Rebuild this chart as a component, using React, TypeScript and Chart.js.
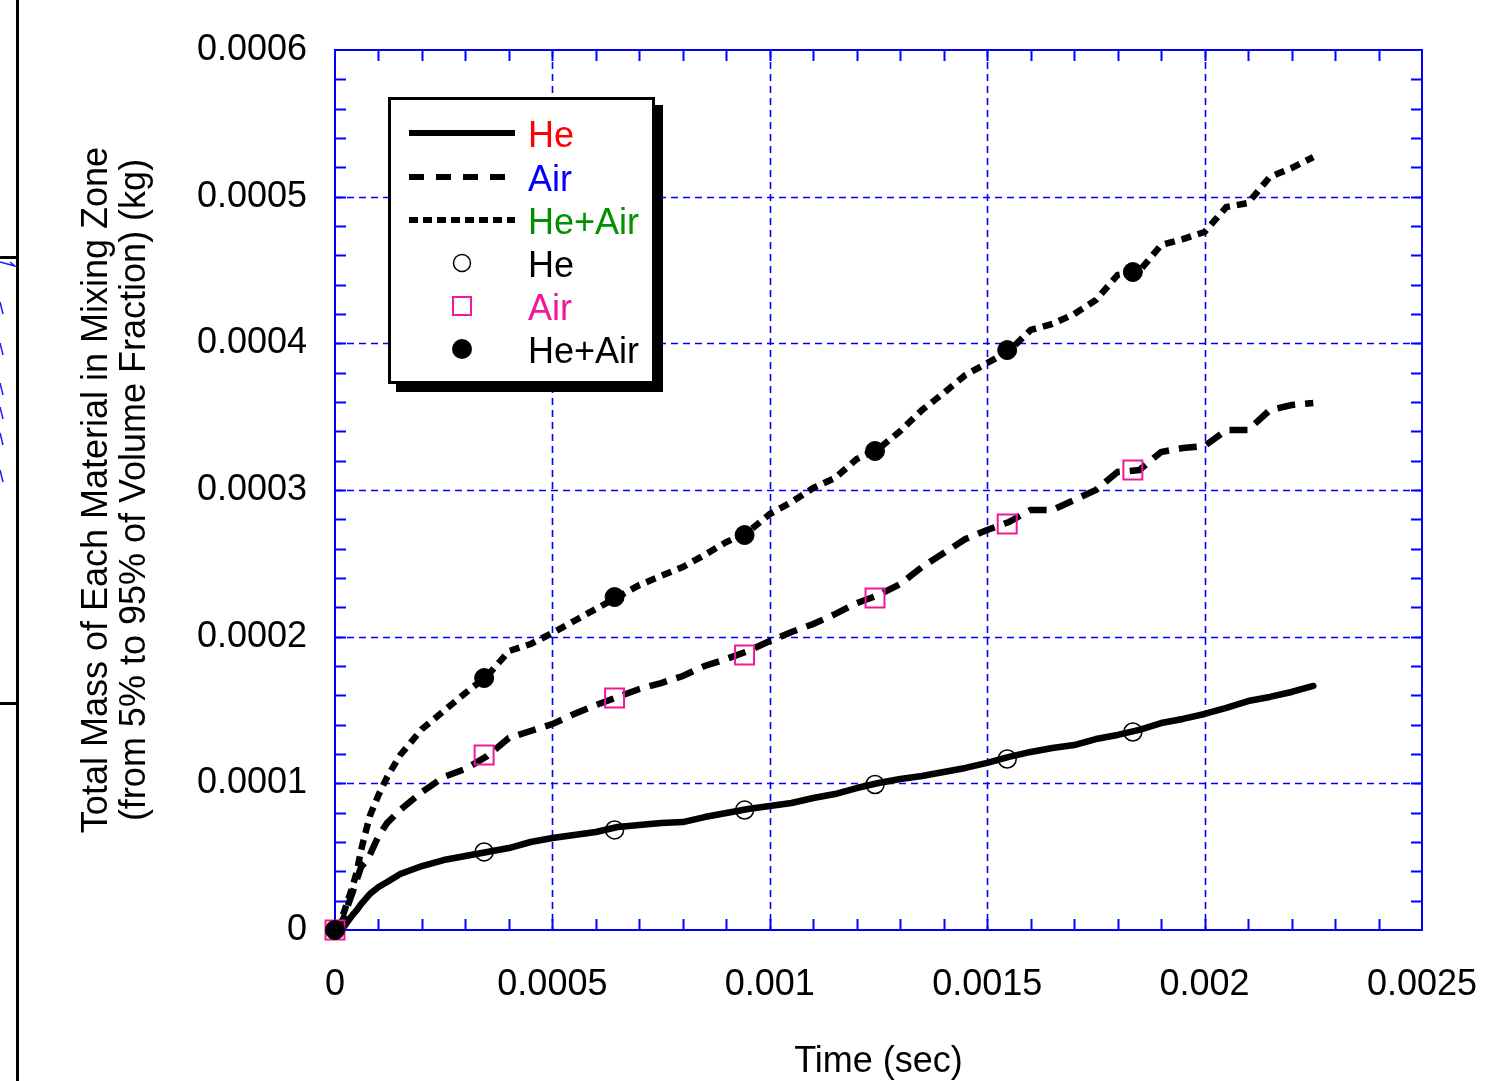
import React, { useEffect, useRef } from 'react';
import { Chart, registerables } from 'chart.js';

Chart.register(...registerables);

// ---------- data ----------
// time (s)
const timeSec = [
  0, 0.00001, 0.00002, 0.00003, 0.00004, 0.00005, 0.00006, 0.00007, 0.00008,
  0.0001, 0.00012, 0.00015,
  0.0002, 0.00025, 0.0003, 0.00035, 0.0004, 0.00045, 0.0005, 0.00055, 0.0006, 0.00065,
  0.0007, 0.00075, 0.0008, 0.00085, 0.0009, 0.00095, 0.001, 0.00105, 0.0011, 0.00115,
  0.0012, 0.00125, 0.0013, 0.00135, 0.0014, 0.00145, 0.0015, 0.00155, 0.0016, 0.00165,
  0.0017, 0.00175, 0.0018, 0.00185, 0.0019, 0.00195, 0.002, 0.00205, 0.0021, 0.00215,
  0.0022, 0.00225,
];
// masses in units of 1e-6 kg
const heMass = [
  0, 0.7, 2.0, 6.1, 10.2, 13.6, 17.7, 21.1, 24.5,
  29.3, 32.7, 38.2,
  43.6, 47.7, 50.5, 53.2, 55.9, 60.0, 62.7, 64.8, 66.8, 70.2,
  71.6, 73.0, 73.6, 77.0, 79.8, 82.5, 84.5, 86.6, 90.0, 92.7,
  96.8, 100.2, 103.0, 105.0, 107.7, 110.5, 113.9, 118.0, 121.4, 124.1,
  126.1, 130.2, 133.0, 136.4, 141.1, 143.9, 147.3, 151.4, 156.1, 158.9,
  162.3, 166.4,
];
const airMass = [
  0, 3.4, 8.2, 17.0, 25.2, 34.1, 43.0, 46.4, 51.1,
  64.1, 73.0, 81.8,
  94.1, 104.3, 109.8, 118.6, 130.9, 135.7, 140.4, 147.3, 153.4, 158.9,
  164.3, 168.4, 173.2, 180.0, 184.8, 190.2, 197.0, 203.2, 208.6, 215.4,
  222.9, 228.4, 235.9, 247.5, 257.0, 266.6, 272.7, 278.2, 286.4, 286.4,
  293.2, 300.0, 312.3, 313.6, 325.9, 328.6, 330.0, 340.9, 340.9, 354.5,
  357.9, 359.3,
];
const heAirMass = [
  0, 5.5, 11.6, 20.5, 29.3, 39.5, 54.5, 66.1, 77.7,
  92.0, 104.3, 119.3,
  137.0, 149.3, 161.6, 173.2, 190.2, 195.0, 202.5, 210.7, 218.9, 227.0,
  235.2, 241.4, 247.5, 255.7, 264.5, 271.4, 283.6, 291.8, 301.4, 308.2,
  321.1, 328.0, 340.2, 354.5, 366.1, 378.4, 386.6, 394.8, 409.1, 413.2,
  420.0, 429.5, 446.6, 449.3, 467.0, 471.1, 475.9, 492.9, 495.7, 513.4,
  519.5, 527.0,
];
const markerTimeSec = [0, 0.000343, 0.000643, 0.000942, 0.001242, 0.001546, 0.001835];
const heMarker = [0, 53.2, 68.2, 81.8, 99.2, 116.6, 135.0];
const airMarker = [0, 119.3, 158.2, 187.5, 226.4, 276.8, 313.6];
const heAirMarker = [0, 171.8, 227.0, 269.3, 326.6, 395.4, 448.6];
const MASS_UNIT = 1e-6;

const xTickValues = [0, 0.0005, 0.001, 0.0015, 0.002, 0.0025];
const xTickLabels = ['0', '0.0005', '0.001', '0.0015', '0.002', '0.0025'];
const yTickValues = [0, 0.0001, 0.0002, 0.0003, 0.0004, 0.0005, 0.0006];
const yTickLabels = ['0', '0.0001', '0.0002', '0.0003', '0.0004', '0.0005', '0.0006'];
const xMinorCount = 25; // 0.0001 steps
const yMinorCount = 30; // 0.00002 steps

const legendLabels = ['He', 'Air', 'He+Air', 'He', 'Air', 'He+Air'];
const legendColors = ['#ff0000', '#0000ff', '#009000', '#000000', '#f0189a', '#000000'];

const FONT = '"Liberation Sans", Arial, Helvetica, sans-serif';
const BLUE = '#0000ff';
const PINK = '#f0189a';

const toXY = (xs: number[], ys: number[]) => xs.map((x, i) => ({ x, y: ys[i] * MASS_UNIT }));

const decorPlugin = {
  id: 'decor',
  beforeDraw(chart: any) {
    const ctx = chart.ctx;
    ctx.save();
    ctx.fillStyle = '#ffffff';
    ctx.fillRect(0, 0, chart.width, chart.height);
    // page edge remnants on the left
    ctx.fillStyle = '#000';
    ctx.fillRect(16, 0, 3, chart.height);
    ctx.fillRect(0, 256, 17, 3);
    ctx.fillRect(0, 702, 17, 3);
    ctx.strokeStyle = '#1a1aff';
    ctx.lineWidth = 1.5;
    ctx.beginPath();
    ctx.moveTo(0, 262); ctx.lineTo(15, 266); ctx.lineTo(10, 262);
    const marks = [302, 343, 383, 407, 433, 470];
    marks.forEach((y) => { ctx.moveTo(0, y); ctx.lineTo(3, y + 12); });
    ctx.stroke();
    ctx.restore();
  },
  beforeDatasetsDraw(chart: any) {
    const ctx = chart.ctx;
    const xs = chart.scales.x;
    const ys = chart.scales.y;
    const { left, right, top, bottom } = chart.chartArea;
    ctx.save();
    // dashed major grid
    ctx.strokeStyle = BLUE;
    ctx.lineWidth = 1.6;
    ctx.setLineDash([7, 5]);
    ctx.beginPath();
    xTickValues.slice(1, -1).forEach((v) => {
      const px = Math.round(xs.getPixelForValue(v)) + 0.5;
      ctx.moveTo(px, top); ctx.lineTo(px, bottom);
    });
    yTickValues.slice(1, -1).forEach((v) => {
      const py = Math.round(ys.getPixelForValue(v)) + 0.5;
      ctx.moveTo(left, py); ctx.lineTo(right, py);
    });
    ctx.stroke();
    ctx.setLineDash([]);
    // inward ticks on all four sides
    ctx.lineWidth = 2;
    ctx.beginPath();
    const tl = 11;
    for (let i = 1; i < xMinorCount; i++) {
      const px = Math.round(xs.getPixelForValue((i * 0.0025) / xMinorCount)) + 0.5;
      ctx.moveTo(px, bottom); ctx.lineTo(px, bottom - tl);
      ctx.moveTo(px, top); ctx.lineTo(px, top + tl);
    }
    for (let i = 1; i < yMinorCount; i++) {
      const py = Math.round(ys.getPixelForValue((i * 0.0006) / yMinorCount)) + 0.5;
      ctx.moveTo(left, py); ctx.lineTo(left + tl, py);
      ctx.moveTo(right, py); ctx.lineTo(right - tl, py);
    }
    ctx.stroke();
    // frame
    ctx.lineWidth = 2;
    ctx.strokeRect(left, top, right - left, bottom - top);
    ctx.restore();
  },
  afterDatasetsDraw(chart: any) {
    const ctx = chart.ctx;
    ctx.save();
    const bx = 388, by = 97, bw = 267, bh = 287, sh = 8;
    ctx.fillStyle = '#000';
    ctx.fillRect(bx + sh, by + sh, bw, bh);
    ctx.fillStyle = '#fff';
    ctx.fillRect(bx, by, bw, bh);
    ctx.lineWidth = 3;
    ctx.strokeStyle = '#000';
    ctx.strokeRect(bx + 1.5, by + 1.5, bw - 3, bh - 3);

    const rows = [133, 177, 220, 263, 306, 349];
    const x1 = 409, x2 = 515, mx = 462, tx = 528;
    ctx.lineWidth = 6;
    const dashes = [[], [15, 12], [9, 5]];
    for (let i = 0; i < 3; i++) {
      ctx.setLineDash(dashes[i]);
      ctx.beginPath();
      ctx.moveTo(x1, rows[i]); ctx.lineTo(x2, rows[i]);
      ctx.stroke();
    }
    ctx.setLineDash([]);
    // markers
    ctx.lineWidth = 1.5;
    ctx.beginPath();
    ctx.arc(mx, rows[3], 8.5, 0, Math.PI * 2);
    ctx.stroke();
    ctx.strokeStyle = PINK;
    ctx.lineWidth = 2;
    ctx.strokeRect(mx - 9, rows[4] - 9, 18, 18);
    ctx.fillStyle = '#000';
    ctx.beginPath();
    ctx.arc(mx, rows[5], 10, 0, Math.PI * 2);
    ctx.fill();

    ctx.font = `36px ${FONT}`;
    ctx.textBaseline = 'middle';
    ctx.textAlign = 'left';
    legendLabels.forEach((t, i) => {
      ctx.fillStyle = legendColors[i];
      ctx.fillText(t, tx, rows[i] + 4);
    });
    ctx.restore();
  },
};

export default function App() {
  const canvasRef = useRef<HTMLCanvasElement | null>(null);

  useEffect(() => {
    if (!canvasRef.current) return;
    const chart = new Chart(canvasRef.current, {
      type: 'scatter',
      data: {
        datasets: [
          {
            label: 'He line', data: toXY(timeSec, heMass), showLine: true,
            borderColor: '#000', borderWidth: 6.5, pointRadius: 0, tension: 0, order: 10,
            borderCapStyle: 'round', borderJoinStyle: 'round',
          },
          {
            label: 'Air line', data: toXY(timeSec, airMass), showLine: true,
            borderColor: '#000', borderWidth: 6.5, borderDash: [18, 10], pointRadius: 0, tension: 0, order: 11,
          },
          {
            label: 'He+Air line', data: toXY(timeSec, heAirMass), showLine: true,
            borderColor: '#000', borderWidth: 6.5, borderDash: [10, 7], pointRadius: 0, tension: 0, order: 12,
          },
          {
            label: 'He', data: toXY(markerTimeSec, heMarker), showLine: false, clip: false,
            pointStyle: 'circle', pointRadius: 9, pointBorderWidth: 1.5,
            pointBorderColor: '#000', pointBackgroundColor: 'rgba(0,0,0,0)', order: 3,
          },
          {
            label: 'Air', data: toXY(markerTimeSec, airMarker), showLine: false, clip: false,
            pointStyle: 'rect', pointRadius: 13.4, pointBorderWidth: 2,
            pointBorderColor: PINK, pointBackgroundColor: 'rgba(0,0,0,0)', order: 2,
          },
          {
            label: 'He+Air', data: toXY(markerTimeSec, heAirMarker), showLine: false, clip: false,
            pointStyle: 'circle', pointRadius: 9.5, pointBorderWidth: 1,
            pointBorderColor: '#000', pointBackgroundColor: '#000', order: 1,
          },
        ],
      },
      options: {
        responsive: false,
        animation: false,
        events: [],
        layout: { padding: { left: 0, top: 50, right: 66, bottom: 0 } },
        plugins: { legend: { display: false }, tooltip: { enabled: false } },
        scales: {
          x: {
            type: 'linear', min: 0, max: 0.0025,
            grid: { display: false, drawTicks: false },
            border: { display: false },
            afterBuildTicks: (axis: any) => { axis.ticks = xTickValues.map((v) => ({ value: v })); },
            afterFit: (axis: any) => {
              axis.height = 151;
              axis.paddingLeft = 0;
              axis.paddingRight = 0;
            },
            ticks: {
              autoSkip: false, maxRotation: 0, padding: 33, color: '#000',
              font: { family: FONT, size: 36 },
              callback: (_v: any, i: number) => xTickLabels[i],
            },
            title: {
              display: true, text: 'Time (sec)', color: '#000',
              font: { family: FONT, size: 36, lineHeight: 1.2 },
              padding: { top: 0, bottom: -3 },
            },
          },
          y: {
            type: 'linear', min: 0, max: 0.0006,
            grid: { display: false, drawTicks: false },
            border: { display: false },
            afterBuildTicks: (axis: any) => { axis.ticks = yTickValues.map((v) => ({ value: v })); },
            afterFit: (axis: any) => {
              axis.width = 335;
              axis.paddingTop = 0;
              axis.paddingBottom = 0;
            },
            ticks: {
              autoSkip: false, padding: 28, color: '#000',
              font: { family: FONT, size: 36 },
              callback: (_v: any, i: number) => yTickLabels[i],
            },
            title: {
              display: true,
              text: ['Total Mass of Each Material in Mixing Zone', '(from 5% to 95% of Volume Fraction) (kg)'],
              color: '#000',
              font: { family: FONT, size: 36, lineHeight: 1.03 },
              padding: { top: 79, bottom: 0 },
            },
          },
        },
      },
      plugins: [decorPlugin],
    } as any);
    return () => chart.destroy();
  }, []);

  return (
    <div style={{ position: 'absolute', left: 0, top: 0, width: 1488, height: 1081 }}>
      <canvas ref={canvasRef} width={1488} height={1081} style={{ display: 'block' }} />
    </div>
  );
}
